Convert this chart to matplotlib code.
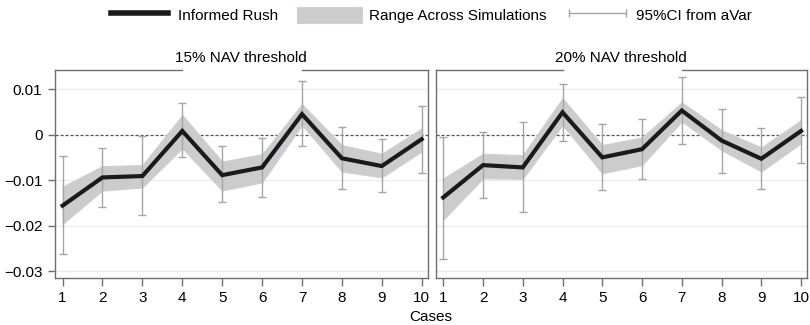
import numpy as np
import matplotlib.pyplot as plt
import matplotlib.transforms as mtransforms
from matplotlib.lines import Line2D
from matplotlib.patches import Patch

plt.rcParams['font.family'] = ['Liberation Sans', 'DejaVu Sans']
plt.rcParams['font.size'] = 11

cases = [1, 2, 3, 4, 5, 6, 7, 8, 9, 10]
panel_titles = ['15% NAV threshold', '20% NAV threshold']

# 15% NAV threshold
rush_15 = [-0.0156, -0.0094, -0.0091, 0.0008, -0.0089, -0.0072, 0.0045, -0.0052, -0.0069, -0.0010]
range_hi_15 = [-0.0114, -0.0069, -0.0067, 0.0043, -0.0059, -0.0043, 0.0067, -0.0023, -0.0042, 0.0014]
range_lo_15 = [-0.0196, -0.0123, -0.0116, -0.0030, -0.0123, -0.0105, 0.0021, -0.0081, -0.0094, -0.0037]
ci_hi_15 = [-0.0048, -0.0029, -0.0004, 0.0069, -0.0024, -0.0007, 0.0117, 0.0016, -0.0009, 0.0064]
ci_lo_15 = [-0.0263, -0.0160, -0.0177, -0.0050, -0.0149, -0.0138, -0.0024, -0.0119, -0.0127, -0.0085]

# 20% NAV threshold
rush_20 = [-0.0138, -0.0067, -0.0072, 0.0049, -0.0050, -0.0032, 0.0053, -0.0013, -0.0053, 0.0008]
range_hi_20 = [-0.0096, -0.0042, -0.0045, 0.0080, -0.0023, -0.0006, 0.0071, 0.0010, -0.0028, 0.0032]
range_lo_20 = [-0.0187, -0.0096, -0.0097, 0.0021, -0.0085, -0.0067, 0.0029, -0.0034, -0.0081, -0.0019]
ci_hi_20 = [-0.0006, 0.0005, 0.0028, 0.0111, 0.0024, 0.0034, 0.0126, 0.0056, 0.0015, 0.0082]
ci_lo_20 = [-0.0273, -0.0140, -0.0169, -0.0013, -0.0122, -0.0097, -0.0020, -0.0084, -0.0119, -0.0063]

yticks = [0.01, 0, -0.01, -0.02, -0.03]
ytick_labels = ['0.01', '0', '\u22120.01', '\u22120.02', '\u22120.03']

panels = [
    (rush_15, range_lo_15, range_hi_15, ci_lo_15, ci_hi_15),
    (rush_20, range_lo_20, range_hi_20, ci_lo_20, ci_hi_20),
]

frame_col = '#6e6e6e'
band_col = '#cccccc'
ci_col = '#a6a6a6'

fig = plt.figure(figsize=(8.1, 3.25), dpi=100)
axes = [fig.add_axes([0.0679, 0.1446, 0.4601, 0.64]),
        fig.add_axes([0.5379, 0.1446, 0.4584, 0.64])]

for i, (ax, (rush, lo, hi, cil, cih)) in enumerate(zip(axes, panels)):
    x = np.array(cases)
    for y in yticks:
        if y != 0:
            ax.axhline(y, color='#ececec', lw=1, zorder=0)
    ax.axhline(0, color='#555555', lw=0.9, ls=(0, (2.5, 1.5)), zorder=1)
    ax.fill_between(x, lo, hi, facecolor=band_col, edgecolor='#c5d2df', lw=0.8, zorder=2)
    rush = np.array(rush)
    ax.errorbar(x, rush, yerr=[rush - np.array(cil), np.array(cih) - rush], fmt='none',
                ecolor=ci_col, elinewidth=1, capsize=3, capthick=1, zorder=3)
    ax.plot(x, rush, color='#1a1a1a', lw=3, zorder=4, solid_joinstyle='miter')

    ax.set_xlim(0.81, 10.15)
    ax.set_ylim(-0.0315, 0.0142)
    ax.set_xticks(cases)
    ax.set_yticks(yticks)
    if i == 0:
        ax.set_yticklabels(ytick_labels)
        ax.tick_params(axis='y', direction='out', length=5, width=1, color=frame_col, pad=4)
    else:
        ax.tick_params(axis='y', left=False, labelleft=False)
    ax.tick_params(axis='x', direction='out', length=6, width=1, color=frame_col, pad=3)

    for s in ['left', 'right', 'bottom']:
        ax.spines[s].set_color(frame_col)
        ax.spines[s].set_linewidth(1)
    # top frame is broken under the panel title, between cases 4 and 7
    ax.spines['top'].set_visible(False)
    trans = mtransforms.blended_transform_factory(ax.transData, ax.transAxes)
    xl = ax.get_xlim()
    for seg in ([xl[0], 4], [7, xl[1]]):
        ax.add_line(Line2D(seg, [1, 1], transform=trans, color=frame_col, lw=1, clip_on=False))

    ax.set_title(panel_titles[i], fontsize=11, pad=6)

fig.text(0.532, 0.026, 'Cases', ha='center', va='center', fontsize=11)

handles = [
    Line2D([], [], color='#1a1a1a', lw=4),
    Patch(facecolor=band_col, edgecolor='#c5d2df', lw=0.8),
    Line2D([], [], color=ci_col, lw=1, marker='|', markersize=6, markeredgewidth=1),
]
labels = ['Informed Rush', 'Range Across Simulations', '95%CI from aVar']
fig.legend(handles, labels, loc='center', bbox_to_anchor=(0.53, 0.954), ncol=3, frameon=False,
           handlelength=4.3, handleheight=1.2, handletextpad=0.4, columnspacing=1.2,
           numpoints=2, fontsize=11, borderaxespad=0, borderpad=0)

fig.savefig('out.png', dpi=100)
